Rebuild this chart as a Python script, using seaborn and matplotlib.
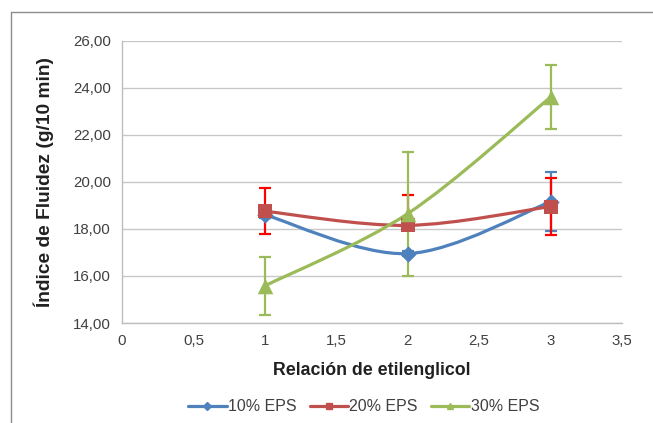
import numpy as np
import pandas as pd
import matplotlib
matplotlib.use('Agg')
import matplotlib.pyplot as plt
import seaborn as sns
from matplotlib.path import Path
from matplotlib.patches import PathPatch
from matplotlib.lines import Line2D
from matplotlib.ticker import FuncFormatter, MultipleLocator

# ── data ──
relacion = [1, 2, 3]
series_names = ['10% EPS', '20% EPS', '30% EPS']

eps10 = [18.60, 16.95, 19.15]
eps10_lo = [0.15, 0.10, 1.25]
eps10_hi = [0.15, 0.10, 1.25]

eps20 = [18.75, 18.15, 18.95]
eps20_lo = [0.97, 0.05, 1.21]
eps20_hi = [0.97, 1.27, 1.21]

eps30 = [15.58, 18.65, 23.60]
eps30_lo = [1.22, 2.65, 1.35]
eps30_hi = [1.22, 2.60, 1.38]

BLUE = '#4F81BD'
RED = '#C0504D'
GREEN = '#9BBB59'
TXT = '#404040'
GRID = '#C8C8C8'

sns.set_theme(style='white')
plt.rcParams['font.family'] = ['Liberation Sans', 'DejaVu Sans']

fig = plt.figure(figsize=(6.53, 4.23), dpi=100)
ax = fig.add_axes([0.187, 0.2364, 0.7655, 0.6674])

# outer chart frame (screenshot is cropped: only top and left edges show)
fx, fy = 10.5 / 653, 1 - 12.5 / 423
fig.add_artist(Line2D([fx, 1.0], [fy, fy], transform=fig.transFigure,
                      color='#8C8C8C', linewidth=1.0))
fig.add_artist(Line2D([fx, fx], [0.0, fy], transform=fig.transFigure,
                      color='#8C8C8C', linewidth=1.0))


def smooth_path(xs, ys):
    # Catmull-Rom style bezier, like Excel's smoothed line
    pts = np.column_stack([xs, ys]).astype(float)
    n = len(pts)
    verts = [pts[0]]
    codes = [Path.MOVETO]
    for i in range(n - 1):
        p0 = pts[i - 1] if i > 0 else pts[i]
        p1 = pts[i]
        p2 = pts[i + 1]
        p3 = pts[i + 2] if i + 2 < n else pts[i + 1]
        c1 = p1 + (p2 - p0) / 6.0
        c2 = p2 - (p3 - p1) / 6.0
        verts += [c1, c2, p2]
        codes += [Path.CURVE4] * 3
    return Path(verts, codes)


series = [
    ('10% EPS', eps10, eps10_lo, eps10_hi, BLUE, BLUE, 'D', 70),
    ('20% EPS', eps20, eps20_lo, eps20_hi, RED, '#FF0000', 's', 105),
    ('30% EPS', eps30, eps30_lo, eps30_hi, GREEN, GREEN, '^', 125),
]

# error bars and lines first, markers on top
for k, (name, vals, lo, hi, col, ecol, mk, ms) in enumerate(series):
    ax.errorbar(relacion, vals, yerr=[lo, hi], fmt='none', ecolor=ecol,
                elinewidth=1.6, capsize=4, capthick=1.6, zorder=3 + k)
    ax.add_patch(PathPatch(smooth_path(relacion, vals), fill=False,
                           edgecolor=col, linewidth=2.3, zorder=4 + k,
                           capstyle='round'))

for k, (name, vals, lo, hi, col, ecol, mk, ms) in enumerate(series):
    df = pd.DataFrame({'x': relacion, 'y': vals})
    sns.scatterplot(data=df, x='x', y='y', marker=mk, s=ms, color=col,
                    edgecolor=col, linewidth=0, ax=ax, zorder=10 + k)

ax.set_xlim(0, 3.5)
ax.set_ylim(14, 26)
ax.xaxis.set_major_locator(MultipleLocator(0.5))
ax.yaxis.set_major_locator(MultipleLocator(2))
ax.xaxis.set_major_formatter(FuncFormatter(lambda v, p: f'{v:g}'.replace('.', ',')))
ax.yaxis.set_major_formatter(FuncFormatter(lambda v, p: f'{v:.2f}'.replace('.', ',')))

ax.grid(axis='y', color=GRID, linewidth=1.0)
ax.set_axisbelow(True)
for s in ['top', 'right']:
    ax.spines[s].set_visible(False)
for s in ['left', 'bottom']:
    ax.spines[s].set_color('#BDBDBD')
    ax.spines[s].set_linewidth(1.0)
ax.tick_params(axis='both', which='major', direction='out', length=4,
               width=1.0, color='#BDBDBD', labelsize=10.8, labelcolor=TXT, pad=4)

ax.set_xlabel('Relación de etilenglicol', fontsize=12.8, fontweight='bold',
              color='#202020', labelpad=10)
ax.set_ylabel('Índice de Fluidez (g/10 min)', fontsize=13.8, fontweight='bold',
              color='#202020', labelpad=14)

handles = [Line2D([0], [0], color=c, linewidth=2.3, marker=m, markersize=4)
           for (_, _, _, _, c, _, m, _) in series]
fig.legend(handles, series_names, loc='center', bbox_to_anchor=(0.557, 0.038),
           ncol=3, frameon=False, fontsize=11.5, handlelength=2.4,
           handletextpad=0.1, columnspacing=0.8, labelcolor=TXT)

fig.savefig('out.png', dpi=100)
